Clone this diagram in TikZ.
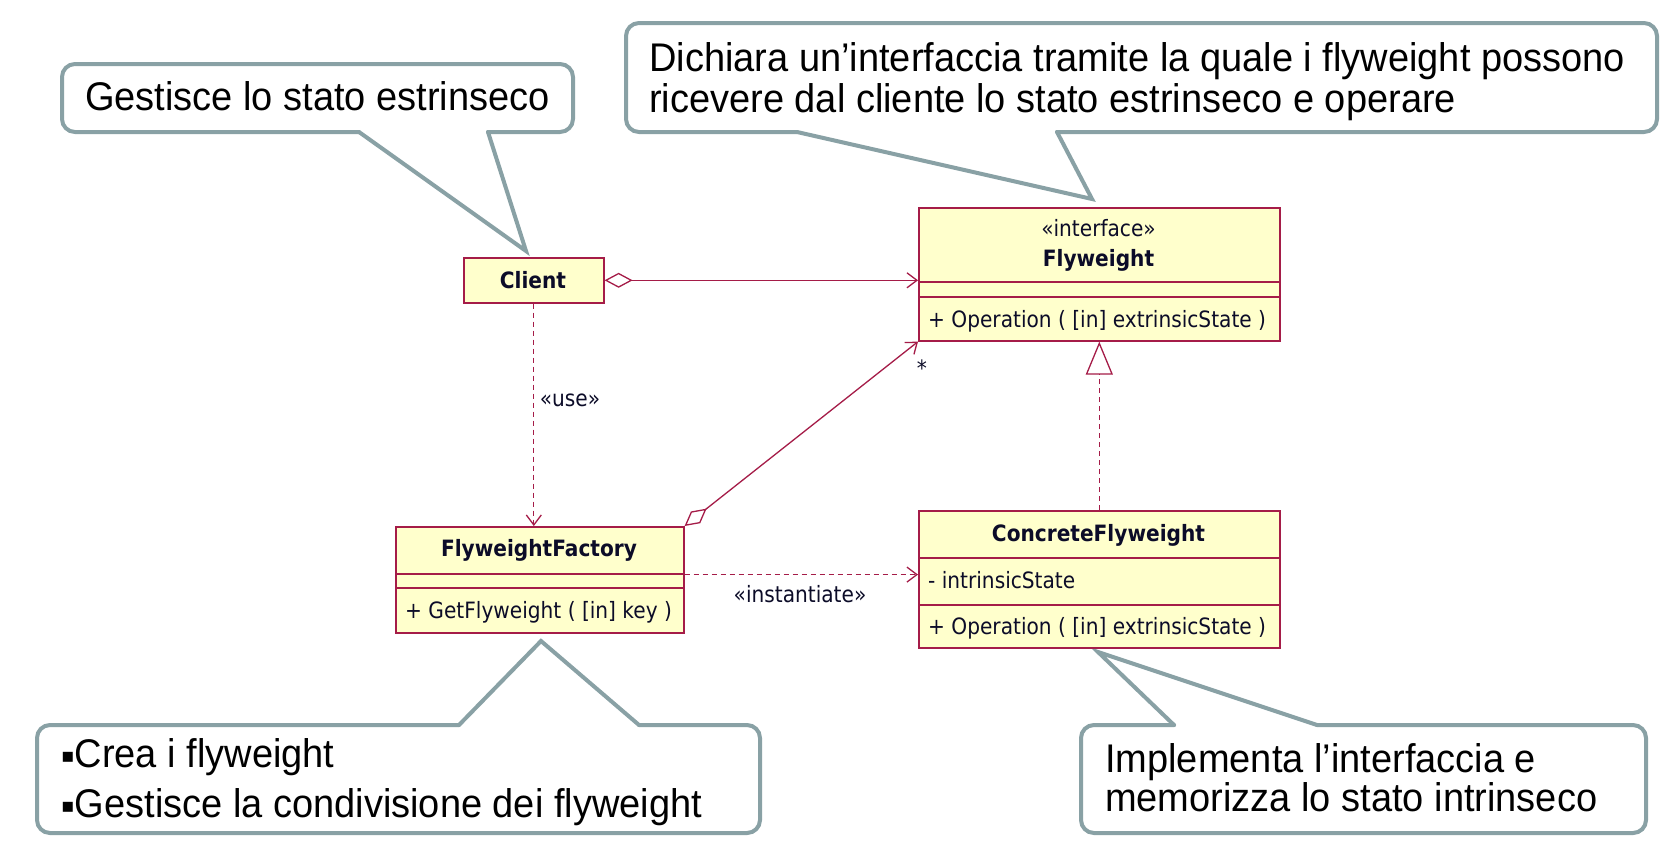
\documentclass[tikz,border=0pt]{standalone}
\usepackage{fontspec}
\setmainfont{Liberation Sans}
\newfontfamily\callfont[FakeStretch=0.95]{Liberation Sans}
\newfontfamily\umlfont[FakeStretch=0.895]{DejaVu Sans}
\newfontfamily\symfont{DejaVu Sans}
\usetikzlibrary{arrows.meta,calc}
\definecolor{umlline}{RGB}{165,28,72}
\definecolor{umlfill}{RGB}{255,255,204}
\definecolor{umltext}{RGB}{12,12,40}
\definecolor{callline}{RGB}{137,161,165}
\newcommand{\bul}{{\symfont\fontsize{20}{20}\selectfont\raisebox{5pt}{▪}}}
\begin{document}
\begin{tikzpicture}[x=1pt,y=-1pt,
  comp/.style={draw=umlline, fill=umlfill, line width=1.6pt, inner sep=0pt, anchor=north west},
  umltxt/.style={font=\umlfont\fontsize{22.5}{27}\selectfont, text=umltext, inner sep=0pt, anchor=base},
  umlleft/.style={umltxt, anchor=base west},
  umlbold/.style={umltxt, font=\umlfont\bfseries\fontsize{22.5}{27}\selectfont},
  umlconn/.style={draw=umlline, line width=1.3pt},
  dashconn/.style={umlconn, dash pattern=on 5pt off 4pt},
  openhead/.style={-{Straight Barb[length=10pt,width=15pt]}},
  agghead/.style={{Diamond[open,length=28pt,width=15pt]}-{Straight Barb[length=10pt,width=15pt]}},
  realhead/.style={-{Triangle[open,length=33pt,width=27pt,fill=white]}},
  callbox/.style={draw=callline, line width=4pt, rounded corners=13pt, line cap=round},
  callptr/.style={draw=callline, line width=4pt, line join=miter, line cap=round},
  calltxt/.style={font=\callfont\fontsize{40}{42}\selectfont, inner sep=0pt, anchor=base west}]
\useasboundingbox[fill=white] (0,0) rectangle (1665,863);

% ---------- callouts ----------
% callout 1
\fill[white, rounded corners=13pt] (62,64) rectangle (573,132);
\draw[callbox] (488,132) -- (573,132) -- (573,64) -- (62,64) -- (62,132) -- (359,132);
\draw[callptr] (359,132) -- (526,251) -- (488,132);
\node[calltxt] (c1) at (85,110) {Gestisce lo stato estrinseco};
% callout 2
\fill[white, rounded corners=13pt] (626,23) rectangle (1657,132);
\draw[callbox] (1057,132) -- (1657,132) -- (1657,23) -- (626,23) -- (626,132) -- (797,132);
\draw[callptr] (797,132) -- (1092,199) -- (1057,132);
\node[calltxt] (c2a) at (649,71) {Dichiara un’interfaccia tramite la quale i flyweight possono};
\node[calltxt] (c2b) at (649,112) {ricevere dal cliente lo stato estrinseco e operare};
% callout 3
\fill[white, rounded corners=13pt] (37,725) rectangle (760,833);
\draw[callbox] (639,725) -- (760,725) -- (760,833) -- (37,833) -- (37,725) -- (459,725);
\draw[callptr] (459,725) -- (541,641) -- (639,725);
\node[calltxt] (c3a) at (61,767) {\bul Crea i flyweight};
\node[calltxt] (c3b) at (61,817) {\bul Gestisce la condivisione dei flyweight};
% callout 4
\fill[white, rounded corners=13pt] (1081,725) rectangle (1646,833);
\draw[callbox] (1317,725) -- (1646,725) -- (1646,833) -- (1081,833) -- (1081,725) -- (1174,725);
\draw[callptr] (1174,725) -- (1098,652) -- (1317,725);
\node[calltxt] (c4a) at (1105,772) {Implementa l’interfaccia e};
\node[calltxt] (c4b) at (1105,811) {memorizza lo stato intrinseco};

% ---------- classes ----------
\node[comp, minimum width=140pt, minimum height=45pt] (client) at (463,257) {};
\node[umlbold] (clientname) at (533,288) {Client};

\node[comp, minimum width=361pt, minimum height=74pt] (fwhead) at (918,207) {};
\node[comp, minimum width=361pt, minimum height=15pt] (fwattr) at (918,281) {};
\node[comp, minimum width=361pt, minimum height=44pt] (fwops) at (918,296) {};
\node[umltxt] (fwst) at (1098.5,236) {«interface»};
\node[umlbold] (fwname) at (1098.5,266) {Flyweight};
\node[umlleft] (fwop) at (928,327) {+ Operation ( [in] extrinsicState )};

\node[comp, minimum width=288pt, minimum height=47pt] (fachead) at (395,526) {};
\node[comp, minimum width=288pt, minimum height=14pt] (facattr) at (395,573) {};
\node[comp, minimum width=288pt, minimum height=45pt] (facops) at (395,587) {};
\node[umlbold] (facname) at (539,556.5) {FlyweightFactory};
\node[umlleft] (facop) at (405,618) {+ GetFlyweight ( [in] key )};

\node[comp, minimum width=361pt, minimum height=47pt] (cfwhead) at (918,510) {};
\node[comp, minimum width=361pt, minimum height=47pt] (cfwattr) at (918,557) {};
\node[comp, minimum width=361pt, minimum height=43pt] (cfwops) at (918,604) {};
\node[umlbold] (cfwname) at (1098.5,541.5) {ConcreteFlyweight};
\node[umlleft] (cfwat) at (928,588) {- intrinsicState};
\node[umlleft] (cfwop) at (928,634) {+ Operation ( [in] extrinsicState )};

% ---------- connectors ----------
\draw[umlconn, agghead] (client.east) -- (client.east -| fwhead.west);
\draw[dashconn, openhead] (client.south) -- (client.south |- fachead.north);
\node[umltxt] (uselbl) at (570,406) {«use»};
\draw[umlconn, agghead] (fachead.north east) -- (fwops.south west);
\node[umltxt] (mult) at (922,376) {*};
\draw[dashconn, openhead] (fachead.south east) -- (fachead.south east -| cfwhead.west);
\node[umltxt] (instlbl) at (800,602.7) {«instantiate»};
\draw[dashconn, realhead] (cfwhead.north) -- (fwops.south);
\end{tikzpicture}
\end{document}
